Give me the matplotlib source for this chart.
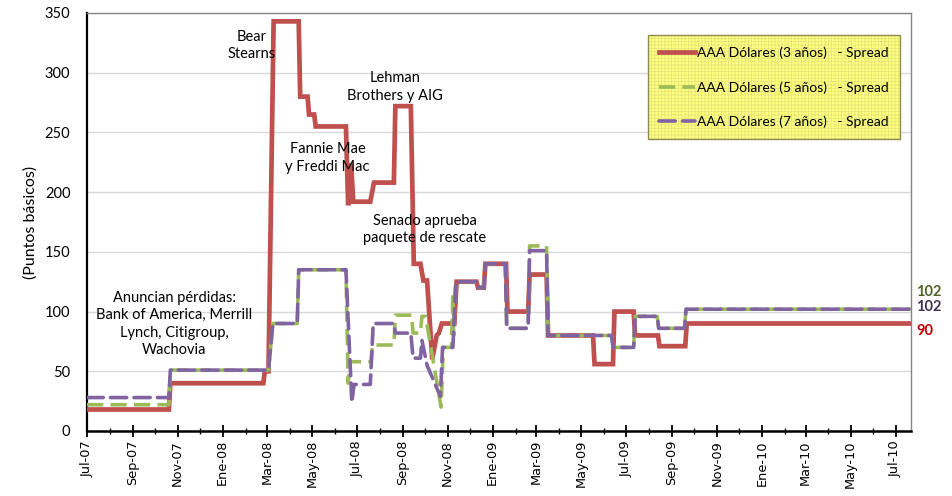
import matplotlib
matplotlib.use("Agg")
import matplotlib.pyplot as plt
import matplotlib.dates as mdates
import matplotlib.colors as mcolors
import matplotlib.transforms as mtransforms
import pandas as pd

# ---------------- data ----------------
red_dates = ["2007-07-01", "2007-10-20", "2007-10-22", "2008-02-25", "2008-02-27", "2008-03-03",
             "2008-03-10", "2008-04-13", "2008-04-15", "2008-04-25", "2008-04-27", "2008-05-04",
             "2008-05-06", "2008-06-16", "2008-06-19", "2008-06-23", "2008-06-26", "2008-07-19",
             "2008-07-24", "2008-08-20", "2008-08-22", "2008-09-12", "2008-09-16", "2008-09-25",
             "2008-09-29", "2008-10-04", "2008-10-11", "2008-10-17", "2008-10-20", "2008-10-24",
             "2008-11-10", "2008-11-13", "2008-12-10", "2008-12-12", "2008-12-20", "2008-12-22",
             "2009-01-19", "2009-01-21", "2009-02-18", "2009-02-20", "2009-03-15", "2009-03-17",
             "2009-05-17", "2009-05-19", "2009-06-13", "2009-06-15", "2009-07-11", "2009-07-13",
             "2009-08-13", "2009-08-15", "2009-09-19", "2009-09-21", "2010-07-22"]
red_vals = [18, 18, 40, 40, 50, 50,
            343, 343, 280, 280, 265, 265,
            255, 255, 189, 224, 192, 192,
            208, 208, 272, 272, 140, 140,
            126, 126, 60, 80, 82, 90,
            90, 125, 125, 120, 120, 140,
            140, 100, 100, 131, 131, 80,
            80, 56, 56, 100, 100, 80,
            80, 71, 71, 90, 90]

green_dates = ["2007-07-01", "2007-10-20", "2007-10-22", "2008-03-03", "2008-03-09", "2008-04-11",
               "2008-04-13", "2008-06-16", "2008-06-19", "2008-06-22", "2008-07-20", "2008-07-22",
               "2008-08-20", "2008-08-22", "2008-09-13", "2008-09-15", "2008-09-25", "2008-09-27",
               "2008-10-02", "2008-10-23", "2008-10-26", "2008-11-06", "2008-11-08", "2008-11-09",
               "2008-11-12", "2008-12-10", "2008-12-12", "2008-12-20", "2008-12-22", "2009-01-18",
               "2009-01-20", "2009-02-18", "2009-02-20", "2009-03-15", "2009-03-17", "2009-06-11",
               "2009-06-13", "2009-07-11", "2009-07-13", "2009-08-12", "2009-08-14", "2009-09-18",
               "2009-09-20", "2010-07-22"]
green_vals = [22, 22, 51, 51, 90, 90,
              135, 135, 40, 58, 58, 72,
              72, 97, 97, 82, 82, 96,
              96, 20, 70, 70, 115, 80,
              125, 125, 120, 120, 140, 140,
              86, 86, 155, 155, 80, 80,
              70, 70, 96, 96, 86, 86,
              102, 102]

purple_dates = ["2007-07-01", "2007-10-20", "2007-10-22", "2008-03-03", "2008-03-09", "2008-04-11",
                "2008-04-13", "2008-06-16", "2008-06-24", "2008-06-27", "2008-07-19", "2008-07-23",
                "2008-08-20", "2008-08-22", "2008-09-12", "2008-09-15", "2008-09-25", "2008-09-27",
                "2008-10-04", "2008-10-22", "2008-10-25", "2008-11-08", "2008-11-12", "2008-12-10",
                "2008-12-12", "2008-12-20", "2008-12-22", "2009-01-18", "2009-01-20", "2009-02-18",
                "2009-02-20", "2009-03-15", "2009-03-17", "2009-06-11", "2009-06-13", "2009-07-11",
                "2009-07-13", "2009-08-12", "2009-08-14", "2009-09-18", "2009-09-20", "2010-07-22"]
purple_vals = [28, 28, 51, 51, 90, 90,
               135, 135, 24, 39, 39, 90,
               90, 82, 82, 61, 61, 76,
               55, 29, 70, 70, 125, 125,
               120, 120, 140, 140, 86, 86,
               151, 151, 80, 80, 70, 70,
               96, 96, 86, 86, 102, 102]

series_labels = ["AAA Dólares (3 años)   - Spread",
                 "AAA Dólares (5 años)   - Spread",
                 "AAA Dólares (7 años)   - Spread"]

tick_dates = ["2007-07-01", "2007-09-01", "2007-11-01", "2008-01-01", "2008-03-01", "2008-05-01",
              "2008-07-01", "2008-09-01", "2008-11-01", "2009-01-01", "2009-03-01", "2009-05-01",
              "2009-07-01", "2009-09-01", "2009-11-01", "2010-01-01", "2010-03-01", "2010-05-01",
              "2010-07-01"]
tick_labels = ["Jul-07", "Sep-07", "Nov-07", "Ene-08", "Mar-08", "May-08", "Jul-08", "Sep-08",
               "Nov-08", "Ene-09", "Mar-09", "May-09", "Jul-09", "Sep-09", "Nov-09", "Ene-10",
               "Mar-10", "May-10", "Jul-10"]

annotations = [
    ("Bear\nStearns", 0.200, 0.922),
    ("Lehman\nBrothers y AIG", 0.374, 0.823),
    ("Fannie Mae\ny Freddi Mac", 0.292, 0.653),
    ("Senado aprueba\npaquete de rescate", 0.410, 0.482),
    ("Anuncian pérdidas:\nBank of America, Merrill\nLynch, Citigroup,\nWachovia", 0.106, 0.256),
]

# ---------------- styles ----------------
RED = "#C0504D"
GREEN = "#9BBB59"
PURPLE = "#8064A2"
FONT = ["Lato", "DejaVu Sans"]

plt.rcParams["hatch.linewidth"] = 0.5

fig = plt.figure(figsize=(9.52, 4.96), dpi=100)
ax = fig.add_axes([87 / 952, 65 / 496, 824 / 952, 418 / 496])

rd = pd.to_datetime(red_dates)
gd = pd.to_datetime(green_dates)
pdts = pd.to_datetime(purple_dates)

ax.plot(rd, red_vals, color=RED, lw=3.4, solid_joinstyle="miter", label=series_labels[0], zorder=3)
ax.plot(gd, green_vals, color=GREEN, lw=2.6, dashes=(4.5, 2.0), label=series_labels[1], zorder=4)
ax.plot(pdts, purple_vals, color=PURPLE, lw=2.6, dashes=(4.5, 2.0), dash_capstyle="round",
        label=series_labels[2], zorder=5)

ax.set_xlim(pd.Timestamp("2007-07-01"), pd.Timestamp("2010-07-22"))
ax.set_ylim(0, 350)
ax.set_yticks(range(0, 351, 50))

ax.set_xticks(pd.to_datetime(tick_dates))
ax.set_xticklabels(tick_labels, rotation=90, fontsize=9.3, family="DejaVu Sans")
ax.xaxis.set_minor_locator(mdates.MonthLocator())
ax.tick_params(axis="x", which="major", direction="inout", length=9, width=1.3, pad=2)
ax.tick_params(axis="x", which="minor", direction="inout", length=5, width=1.0)
ax.tick_params(axis="y", which="major", direction="out", length=0, pad=12)
for lab in ax.get_yticklabels():
    lab.set_family(FONT)
    lab.set_fontsize(10.5)

ax.yaxis.grid(True, color="#D9D9D9", lw=1.0)
ax.set_axisbelow(True)

ax.spines["left"].set_color("black")
ax.spines["left"].set_linewidth(1.6)
ax.spines["bottom"].set_color("black")
ax.spines["bottom"].set_linewidth(1.8)
ax.spines["top"].set_color("#868686")
ax.spines["top"].set_linewidth(1.0)
ax.spines["right"].set_color("#868686")
ax.spines["right"].set_linewidth(1.0)

ax.set_ylabel("(Puntos básicos)", family=FONT, fontsize=11.5, labelpad=5)

for txt, xf, yf in annotations:
    ax.text(xf, yf, txt, transform=ax.transAxes, ha="center", va="center",
            multialignment="center", family=FONT, fontsize=10.5, linespacing=1.3, zorder=6)

# end labels
trans = mtransforms.blended_transform_factory(ax.transAxes, ax.transData)
ax.text(1.006, 116, str(green_vals[-1]), transform=trans, color="#4F6228", fontweight="bold",
        family=FONT, fontsize=10.5, va="center", ha="left", clip_on=False)
ax.text(1.006, 104, str(purple_vals[-1]), transform=trans, color="#403152", fontweight="bold",
        family=FONT, fontsize=10.5, va="center", ha="left", clip_on=False)
ax.text(1.006, 84, str(red_vals[-1]), transform=trans, color="#C00000", fontweight="bold",
        family=FONT, fontsize=10.5, va="center", ha="left", clip_on=False)

leg = ax.legend(loc="upper right", bbox_to_anchor=(0.987, 0.947), borderaxespad=0,
                prop={"family": FONT, "size": 10}, handlelength=2.6, handletextpad=0.15,
                labelspacing=1.6, borderpad=0.8, fancybox=False, framealpha=1)
frame = leg.get_frame()
frame.set_facecolor("#FFFF80")
frame.set_edgecolor("#8C8C50")
frame.set_linewidth(1.0)
frame.set_hatch("+++++")
frame._hatch_color = mcolors.to_rgba("#E2E27A")
leg.set_zorder(10)

fig.savefig("out.png", dpi=100)
